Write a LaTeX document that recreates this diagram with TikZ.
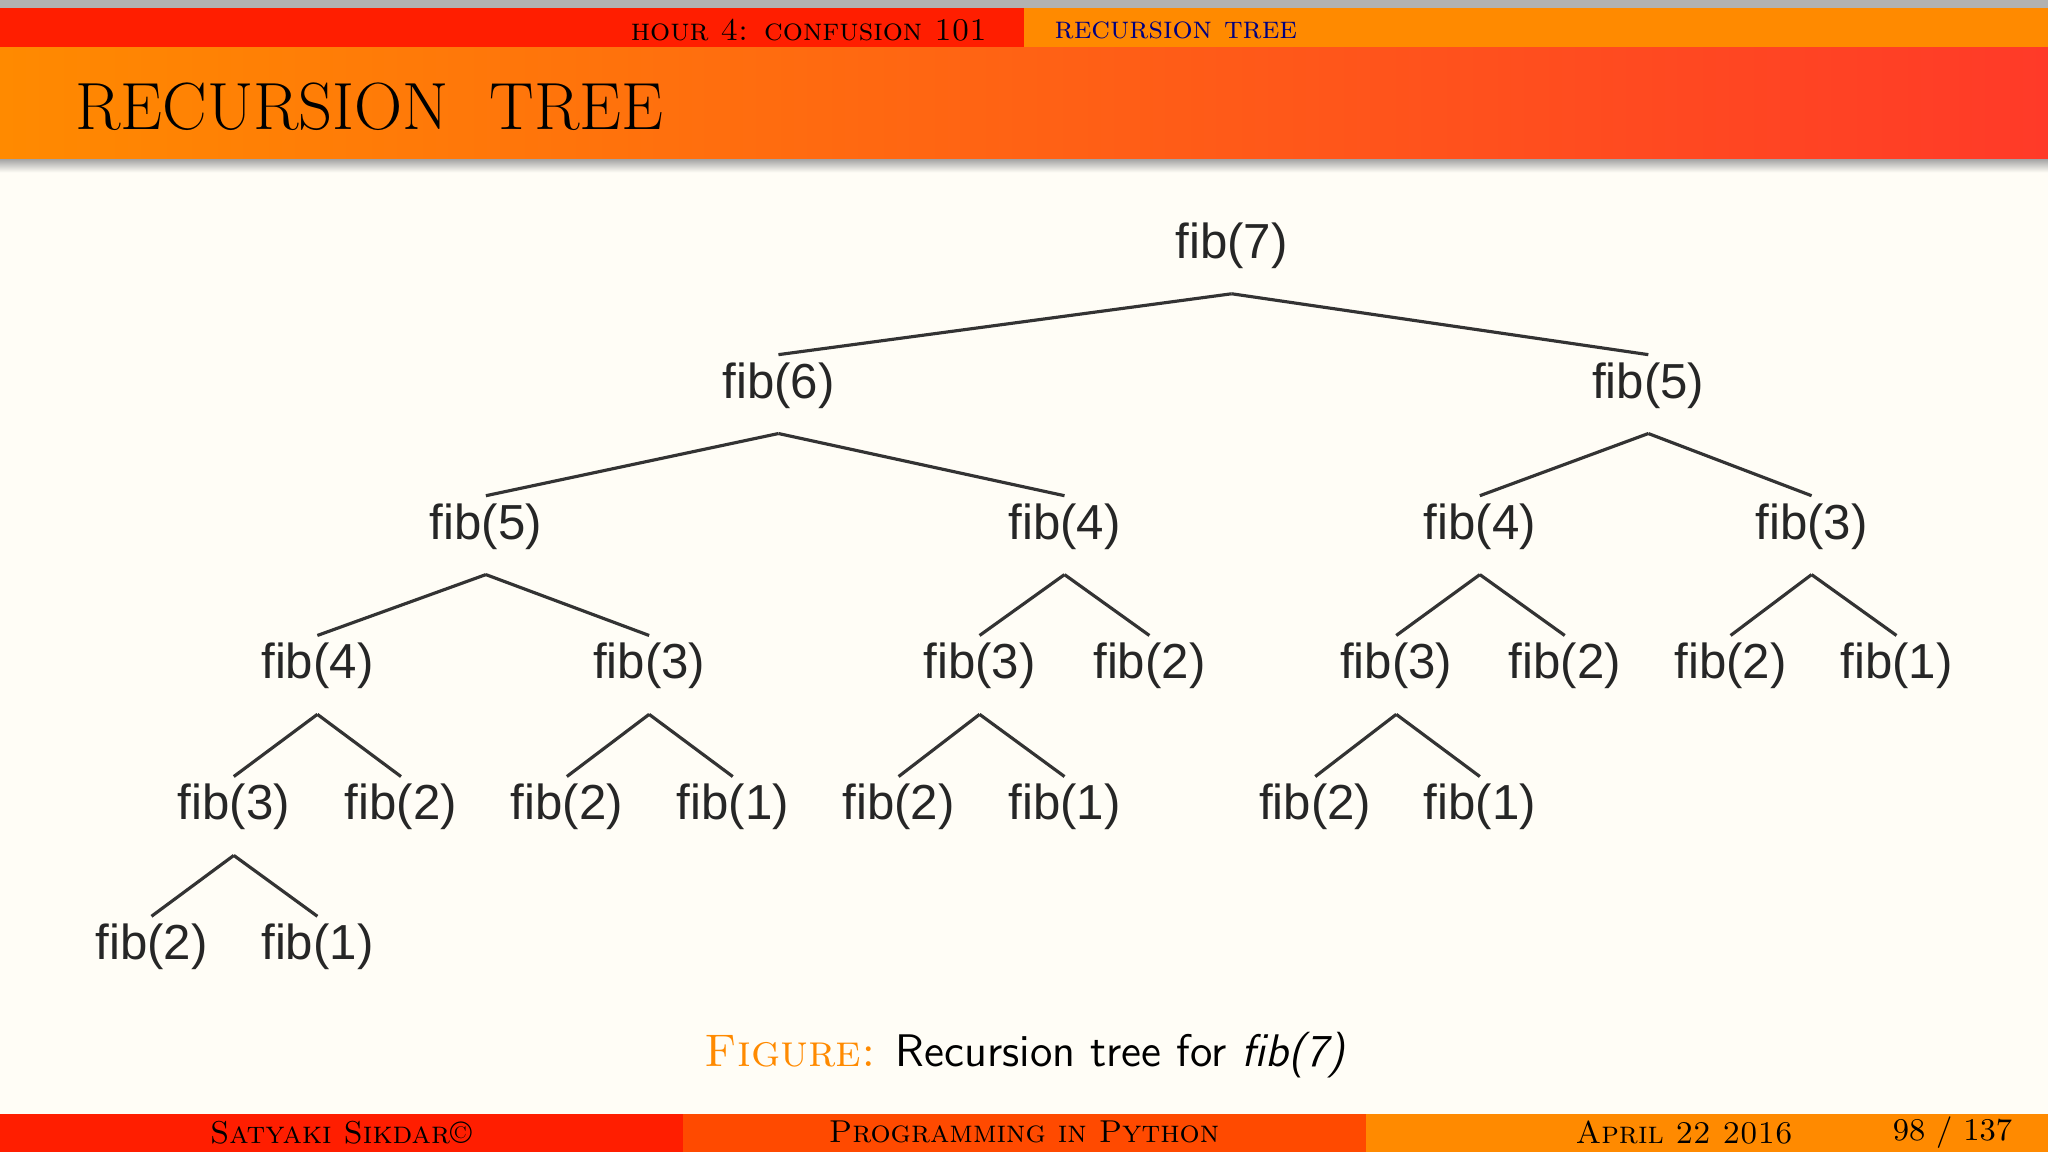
\documentclass[tikz,border=0pt]{standalone}
\usepackage{fontspec}
\newfontfamily\arial{Liberation Sans}
\begin{document}
\begin{tikzpicture}[x=0.013061cm,y=-0.013061cm,
  fib/.style={font=\arial\fontsize{14}{16}\selectfont,inner sep=1pt,text=black!85},
  edge/.style={draw=black!80,line width=0.9pt}]
\definecolor{bg}{HTML}{FFFDF6}
\definecolor{bred}{HTML}{FF1E00}
\definecolor{borange}{HTML}{FF8A00}
\definecolor{bmid}{HTML}{FF4A00}
\definecolor{gred}{HTML}{FF3A28}
\useasboundingbox (0,0) rectangle (1568,882);
\fill[bg] (0,0) rectangle (1568,882);
\fill[gray!60] (0,0) rectangle (1568,6);
\fill[bred] (0,6) rectangle (784,36);
\fill[borange] (784,6) rectangle (1568,36);
\shade[left color=borange,right color=gred] (0,36) rectangle (1568,122);
\shade[top color=gray!70,bottom color=bg] (0,122) rectangle (1568,132);
\node[anchor=east,font=\fontsize{9}{10}\selectfont\scshape] (h1) at (765,23) {hour 4: confusion 101};
\node[anchor=west,font=\fontsize{9}{10}\selectfont\scshape,text=blue!50!black] (h2) at (798,23) {recursion tree};
\node[anchor=west,font=\fontsize{19}{22}\selectfont] (title) at (48,82) {RECURSION\ \ TREE};
% footer
\fill[bred] (0,853) rectangle (523,882);
\fill[bmid] (523,853) rectangle (1046,882);
\fill[borange] (1046,853) rectangle (1568,882);
\node[font=\fontsize{9}{10}\selectfont\scshape] (f1) at (261,867) {Satyaki Sikdar\textcopyright};
\node[font=\fontsize{9}{10}\selectfont\scshape] (f2) at (784,867) {Programming in Python};
\node[anchor=east,font=\fontsize{9}{10}\selectfont\scshape] (f3) at (1382,867) {April 22 2016};
\node[anchor=east,font=\fontsize{9}{10}\selectfont] (f4) at (1550,867) {98 / 137};
% caption
\node[font=\fontsize{13}{15}\selectfont] (cap) at (785,808) {\textcolor{borange}{\scshape Figure:} \sffamily Recursion tree for \textit{fib(7)}};
% tree
\node[fib] (a) at (943,188) {fib(7)};
\node[fib] (b1) at (596,295) {fib(6)};
\node[fib] (b2) at (1262,295) {fib(5)};
\node[fib] (c1) at (372,403) {fib(5)};
\node[fib] (c2) at (815,403) {fib(4)};
\node[fib] (c3) at (1133,403) {fib(4)};
\node[fib] (c4) at (1387,403) {fib(3)};
\node[fib] (d1) at (243,510) {fib(4)};
\node[fib] (d2) at (497,510) {fib(3)};
\node[fib] (d3) at (750,510) {fib(3)};
\node[fib] (d4) at (880,510) {fib(2)};
\node[fib] (d5) at (1069,510) {fib(3)};
\node[fib] (d6) at (1198,510) {fib(2)};
\node[fib] (d7) at (1325,510) {fib(2)};
\node[fib] (d8) at (1452,510) {fib(1)};
\node[fib] (e1) at (179,618) {fib(3)};
\node[fib] (e2) at (307,618) {fib(2)};
\node[fib] (e3) at (434,618) {fib(2)};
\node[fib] (e4) at (561,618) {fib(1)};
\node[fib] (e5) at (688,618) {fib(2)};
\node[fib] (e6) at (815,618) {fib(1)};
\node[fib] (e7) at (1007,618) {fib(2)};
\node[fib] (e8) at (1133,618) {fib(1)};
\node[fib] (g1) at (116,725) {fib(2)};
\node[fib] (g2) at (243,725) {fib(1)};
\foreach \p/\c in {a/b1,a/b2,b1/c1,b1/c2,b2/c3,b2/c4,c1/d1,c1/d2,c2/d3,c2/d4,c3/d5,c3/d6,c4/d7,c4/d8,d1/e1,d1/e2,d2/e3,d2/e4,d3/e5,d3/e6,d5/e7,d5/e8,e1/g1,e1/g2}
  \draw[edge] ([yshift=-6pt]\p.south) -- ([yshift=1pt]\c.north);
\end{tikzpicture}
\end{document}
